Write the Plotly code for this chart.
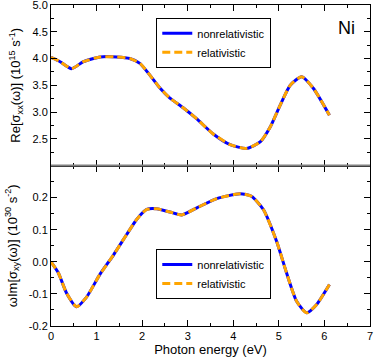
import plotly.graph_objects as go
from plotly.subplots import make_subplots

# Re[sigma_xx] (top panel)
energy_xx = [0, 0.2, 0.45, 0.71, 1.08, 1.44, 1.73, 1.95, 2.17, 2.39, 2.61, 2.9, 3.2,
             3.56, 3.93, 4.29, 4.59, 4.81, 5.03, 5.25, 5.5, 5.76, 6.11]
re_xx = [4.02, 3.94, 3.81, 3.94, 4.03, 4.03, 4.00, 3.91, 3.69, 3.45, 3.26, 3.08, 2.87,
         2.59, 2.39, 2.32, 2.44, 2.72, 3.13, 3.50, 3.66, 3.44, 2.94]

# omega*Im[sigma_xy] (bottom panel)
energy_xy = [0, 0.16, 0.34, 0.56, 0.78, 1.07, 1.37, 1.66, 1.88, 2.1, 2.32, 2.61, 2.87,
             3.2, 3.64, 4.15, 4.4, 4.66, 4.95, 5.17, 5.39, 5.61, 5.83, 6.11]
im_xy = [0.0, -0.034, -0.097, -0.140, -0.110, -0.040, 0.021, 0.085, 0.132, 0.163, 0.165,
         0.155, 0.146, 0.168, 0.197, 0.212, 0.204, 0.163, 0.064, -0.035, -0.123, -0.159,
         -0.133, -0.071]

x_ticks = [0, 1, 2, 3, 4, 5, 6, 7]
top_ticks = [2.5, 3.0, 3.5, 4.0, 4.5, 5.0]
bottom_ticks = [-0.2, -0.1, 0.0, 0.1, 0.2]

blue = "#0000ff"
orange = "#ffa500"
font = "Liberation Sans"

fig = make_subplots(rows=2, cols=1, shared_xaxes=True, vertical_spacing=0)

for row, xs, ys, leg in [(1, energy_xx, re_xx, "legend"), (2, energy_xy, im_xy, "legend2")]:
    fig.add_trace(go.Scatter(x=xs, y=ys, name="nonrelativistic", mode="lines",
                             line=dict(color=blue, width=3, shape="spline", smoothing=0.6),
                             legend=leg), row=row, col=1)
    fig.add_trace(go.Scatter(x=xs, y=ys, name="relativistic", mode="lines",
                             line=dict(color=orange, width=3, dash="8px,4px",
                                       shape="spline", smoothing=0.6),
                             legend=leg), row=row, col=1)

axis_style = dict(showline=True, linecolor="black", linewidth=1, mirror="ticks",
                  ticks="inside", ticklen=6, tickcolor="black", showgrid=False,
                  zeroline=False, automargin=False, ticklabeloverflow="allow",
                  tickfont=dict(family=font, size=11, color="black"))

fig.update_xaxes(range=[0, 7], tickvals=x_ticks, minor=dict(dtick=0.5, ticklen=3,
                 ticks="inside", tickcolor="black"), **axis_style)
fig.update_xaxes(showticklabels=False, row=1, col=1)
fig.update_xaxes(title=dict(text="Photon energy (eV)", standoff=0,
                            font=dict(family=font, size=13, color="black")),
                 row=2, col=1)

fig.update_yaxes(range=[2.0, 5.0], tickvals=top_ticks,
                 ticktext=["%.1f" % v for v in top_ticks],
                 minor=dict(dtick=0.25, ticklen=3, ticks="inside", tickcolor="black"),
                 title=dict(text="Re[σ<sub>xx</sub>(ω)] (10<sup>15</sup> s<sup>-1</sup>)",
                            standoff=8,
                            font=dict(family=font, size=13, color="black")),
                 row=1, col=1, **axis_style)
fig.update_yaxes(range=[-0.2, 0.3], tickvals=bottom_ticks,
                 ticktext=["%.1f" % v for v in bottom_ticks],
                 minor=dict(dtick=0.05, ticklen=3, ticks="inside", tickcolor="black"),
                 title=dict(text="ωIm[σ<sub>xy</sub>(ω)] (10<sup>30</sup> s<sup>-2</sup>)",
                            standoff=8,
                            font=dict(family=font, size=13, color="black")),
                 row=2, col=1, **axis_style)

# gray separator between the panels
fig.add_shape(type="line", xref="paper", yref="paper", x0=0, x1=1, y0=0.5, y1=0.5,
              line=dict(color="#808080", width=2), layer="above")

fig.add_annotation(text="Ni", xref="paper", yref="paper", x=0.925, y=0.928,
                   xanchor="center", yanchor="middle",
                   showarrow=False, font=dict(family=font, size=18, color="black"))

legend_style = dict(bgcolor="white", bordercolor="black", borderwidth=1,
                    font=dict(family=font, size=11, color="black"),
                    xanchor="left", yanchor="top", tracegroupgap=0, itemwidth=30)

fig.update_layout(
    width=374, height=357,
    margin=dict(l=51, r=4, t=5, b=31),
    plot_bgcolor="white", paper_bgcolor="white",
    showlegend=True,
    legend=dict(x=0.33, y=0.96, **legend_style),
    legend2=dict(x=0.33, y=0.24, **legend_style),
)

# drop the default page margin so the figure sits at the window's corner
fig.write_html("out.html", config={"displayModeBar": False},
               post_script="document.body.style.margin='0';")
